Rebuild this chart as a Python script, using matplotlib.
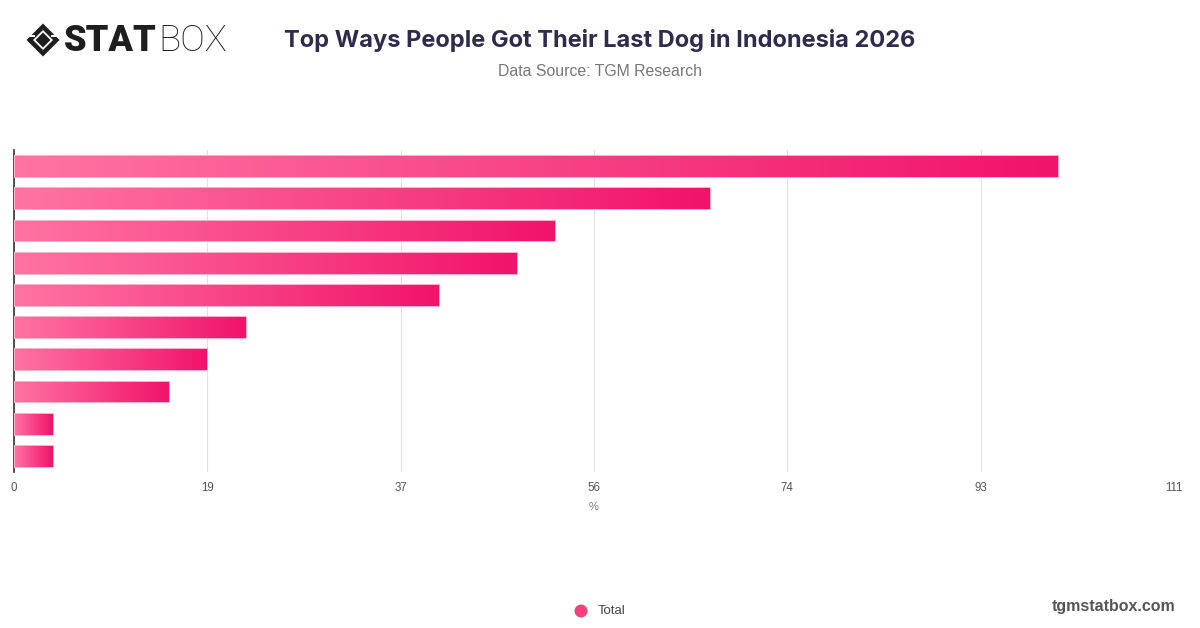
import matplotlib
matplotlib.use("Agg")
import matplotlib.pyplot as plt
import numpy as np
from matplotlib.colors import LinearSegmentedColormap
from matplotlib.patches import Polygon, Ellipse

# ---- data ----
categories = ["Cat 1", "Cat 2", "Cat 3", "Cat 4", "Cat 5",
              "Cat 6", "Cat 7", "Cat 8", "Cat 9", "Cat 10"]
values = [99.9, 66.6, 51.8, 48.1, 40.7, 22.2, 18.5, 14.8, 3.7, 3.7]
tick_values = [0, 18.5, 37, 55.5, 74, 92.5, 111]
tick_labels = ["0", "19", "37", "56", "74", "93", "111"]
series_name = "Total"

title = "Top Ways People Got Their Last Dog in Indonesia 2026"
subtitle = "Data Source: TGM Research"

W, H = 1200, 628
fig = plt.figure(figsize=(W / 100, H / 100), dpi=100)
fig.patch.set_facecolor("white")

ax = fig.add_axes([14 / W, 1 - 472 / H, 1160 / W, 322 / H])
cmap = LinearSegmentedColormap.from_list("pinkgrad", ["#ff74a3", "#f2136a"])
grad = np.linspace(0, 1, 512).reshape(1, -1)

bar_h = 0.68
ypos = np.arange(len(categories))
bars = ax.barh(ypos, values, height=bar_h, facecolor="#ff74a3",
               edgecolor="#ffa9c6", linewidth=0.8, zorder=2)
for rect, y, v in zip(bars, ypos, values):
    im = ax.imshow(grad, cmap=cmap, aspect="auto",
                   extent=[0, v, y + bar_h / 2 + 0.1, y - bar_h / 2 - 0.1],
                   zorder=3, interpolation="bilinear")
    im.set_clip_path(rect)
ax.barh(ypos, values, height=bar_h, facecolor="none",
        edgecolor="#ffb3cd", linewidth=0.7, zorder=4)

ax.set_xlim(0, 111)
ax.set_ylim(len(categories) - 0.5, -0.5)
ax.set_xticks(tick_values)
ax.set_xticklabels(tick_labels)
ax.set_yticks([])
ax.grid(axis="x", color="#e2e2e2", linewidth=0.8, zorder=0)
ax.set_axisbelow(True)
for s in ["top", "right", "bottom"]:
    ax.spines[s].set_visible(False)
ax.spines["left"].set_color("#333333")
ax.spines["left"].set_linewidth(1.2)
ax.spines["left"].set_zorder(1)
ax.tick_params(axis="x", length=0, pad=7, labelsize=8.3, labelcolor="#555555")
for lab in ax.get_xticklabels():
    lab.set_fontfamily("Liberation Sans")
ax.set_xlabel("%", fontsize=8, color="#777777", labelpad=6,
              fontfamily="Liberation Sans")

# ---- title / subtitle ----
fig.text(600 / W, 1 - 40 / H, title, ha="center", va="center",
         fontsize=17, fontweight="bold", color="#2f2b4d", fontfamily="Inter")
fig.text(600 / W, 1 - 71 / H, subtitle, ha="center", va="center",
         fontsize=11.4, color="#777777", fontfamily="Liberation Sans")

# ---- logo ----
lax = fig.add_axes([0, 1 - 80 / H, 300 / W, 80 / H])
lax.set_xlim(0, 300)
lax.set_ylim(80, 0)
lax.axis("off")
cx, cy, r = 43, 40, 16.5
lax.add_patch(Polygon([[cx, cy - r], [cx + r, cy], [cx, cy + r], [cx - r, cy]],
                      closed=True, facecolor="#1e1e1e"))
ri = 10
lax.add_patch(Polygon([[cx, cy - ri], [cx + ri, cy], [cx, cy + ri], [cx - ri, cy]],
                      closed=True, facecolor="white"))
ri2 = 7.5
lax.add_patch(Polygon([[cx, cy - ri2], [cx + ri2, cy], [cx, cy + ri2], [cx - ri2, cy]],
                      closed=True, facecolor="#1e1e1e"))
lax.plot([cx - r + 3, cx - ri + 1], [cy - 4, cy - 4], color="white", lw=1.5)
lax.plot([cx + ri - 1, cx + r - 3], [cy - 4, cy - 4], color="white", lw=1.5)
lax.text(64, 41, "STAT", ha="left", va="center", fontsize=26,
         fontweight="black", color="#1e1e1e", fontfamily="Roboto")
lax.text(158, 41, "BOX", ha="left", va="center", fontsize=26.5,
         fontweight="light", color="#1e1e1e", fontfamily="Roboto")

# ---- legend ----
fig.text(598 / W, 1 - 611 / H, series_name, ha="left", va="center",
         fontsize=9.5, color="#444444", fontfamily="Liberation Sans")
fig.patches.append(Ellipse((581 / W, 1 - 611 / H), 13 / W, 13 / H,
                           transform=fig.transFigure, facecolor="#f7417f",
                           edgecolor="none"))

fig.text(1175 / W, 1 - 606 / H, "tgmstatbox.com", ha="right", va="center",
         fontsize=11.5, fontweight="bold", color="#555555",
         fontfamily="Liberation Sans")

fig.savefig("out.png", dpi=100, facecolor="white")
